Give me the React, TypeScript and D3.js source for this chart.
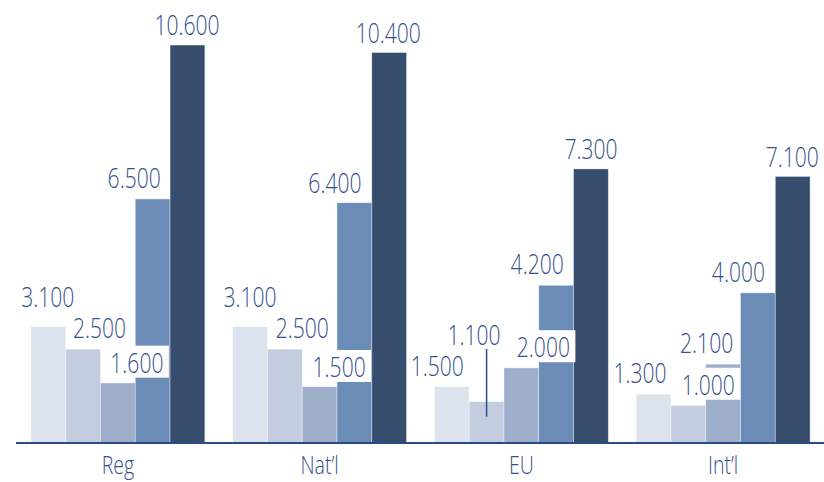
import React from "react";
import * as d3 from "d3";

const categories = ["Reg", "Nat’l", "EU", "Int’l"];
const seriesNames = ["S1", "S2", "S3", "S4", "S5"];
const series1 = [3100, 3100, 1500, 1300];
const series2 = [2500, 2500, 1100, 1000];
const series3 = [1600, 1500, 2000, 2100];
const series4 = [6500, 6400, 4200, 4000];
const series5 = [10600, 10400, 7300, 7100];
const seriesValues = [series1, series2, series3, series4, series5];

// layout (label offsets from bar top centre: [dx, dy])
const labelOffsets: [number, number][][] = [
  [[-0.5, -20], [16.5, -11], [19, -10.3], [-18.5, -11.3], [-0.5, -10]],
  [[0, -20], [17.5, -11.3], [19.5, -9.7], [-19.5, -9.7], [-1, -9.7]],
  [[-14.5, -10.7], [-12.5, -56.7], [22, -10.7], [-19, -11.7], [0, -10.3]],
  [[-13.5, -11.3], [20, -10.7], [-16.5, -11.3], [-19.5, -11.3], [-0.5, -9.7]],
];
const boxedLabels = [[0, 2], [1, 2], [2, 2], [3, 1]];
const leaderLabels = [[2, 1]];

const colors = ["#dde3ed", "#c3cddf", "#9eafcb", "#6c8cb8", "#374d6d"];
const textColor = "#33508c";
const axisColor = "#2c4a88";

const W = 824;
const H = 482;
const baseline = 443;

const locale = d3.formatLocale({ decimal: ",", thousands: ".", grouping: [3], currency: ["", ""] });
const fmt = locale.format(",.0f");

const FONT = "'Open Sans', 'Noto Sans', sans-serif";
const SX = 0.78;

export default function App() {
  const x0 = d3.scaleBand<string>().domain(categories).range([17, 824]).padding(0);
  const x1 = d3
    .scaleBand<string>()
    .domain(seriesNames)
    .range([0, x0.bandwidth()])
    .paddingInner(0)
    .paddingOuter(0.4);
  const y = d3.scaleLinear().domain([0, 11800]).range([baseline, 0]);

  const isBoxed = (c: number, s: number) => boxedLabels.some(([a, b]) => a === c && b === s);
  const isLeader = (c: number, s: number) => leaderLabels.some(([a, b]) => a === c && b === s);

  const bars: React.ReactNode[] = [];
  const labels: React.ReactNode[] = [];

  categories.forEach((cat, ci) => {
    seriesNames.forEach((sn, si) => {
      const v = seriesValues[si][ci];
      const bx = (x0(cat) as number) + (x1(sn) as number);
      const bw = x1.bandwidth();
      const top = y(v);
      bars.push(
        <rect
          key={`b-${ci}-${si}`}
          x={bx}
          y={top}
          width={bw}
          height={baseline - top}
          fill={colors[si]}
          stroke="#ffffff"
          strokeOpacity={0.45}
          strokeWidth={0.8}
        />
      );
    });
  });

  categories.forEach((cat, ci) => {
    seriesNames.forEach((sn, si) => {
      const v = seriesValues[si][ci];
      const cx = (x0(cat) as number) + (x1(sn) as number) + x1.bandwidth() / 2;
      const top = y(v);
      const [dx, dy] = labelOffsets[ci][si];
      const lx = cx + dx;
      const ly = top + dy;
      if (isBoxed(ci, si)) {
        labels.push(
          <rect key={`bx-${ci}-${si}`} x={lx - 32} y={ly - 27} width={64} height={32} fill="#ffffff" />
        );
      }
      if (isLeader(ci, si)) {
        labels.push(
          <line
            key={`ld-${ci}-${si}`}
            x1={cx}
            x2={cx}
            y1={ly + 4}
            y2={top + 15}
            stroke={axisColor}
            strokeWidth={1.5}
          />
        );
      }
      labels.push(
        <text
          key={`t-${ci}-${si}`}
          transform={`translate(${lx},${ly}) scale(${SX},1)`}
          textAnchor="middle"
          fontFamily={FONT}
          fontWeight={300}
          fontSize={27}
          fill={textColor}
        >
          {fmt(v)}
        </text>
      );
    });
  });

  return (
    <svg
      width={W}
      height={H}
      style={{ position: "absolute", left: 0, top: 0, display: "block", background: "#ffffff" }}
    >
      <rect x={0} y={0} width={W} height={H} fill="#ffffff" />
      {bars}
      <line x1={16} x2={824} y1={baseline} y2={baseline} stroke={axisColor} strokeWidth={2.2} />
      {labels}
      {categories.map((cat) => (
        <text
          key={`c-${cat}`}
          transform={`translate(${(x0(cat) as number) + x0.bandwidth() / 2},${474}) scale(${SX},1)`}
          textAnchor="middle"
          fontFamily={FONT}
          fontWeight={300}
          fontSize={25}
          fill={textColor}
        >
          {cat}
        </text>
      ))}
    </svg>
  );
}
